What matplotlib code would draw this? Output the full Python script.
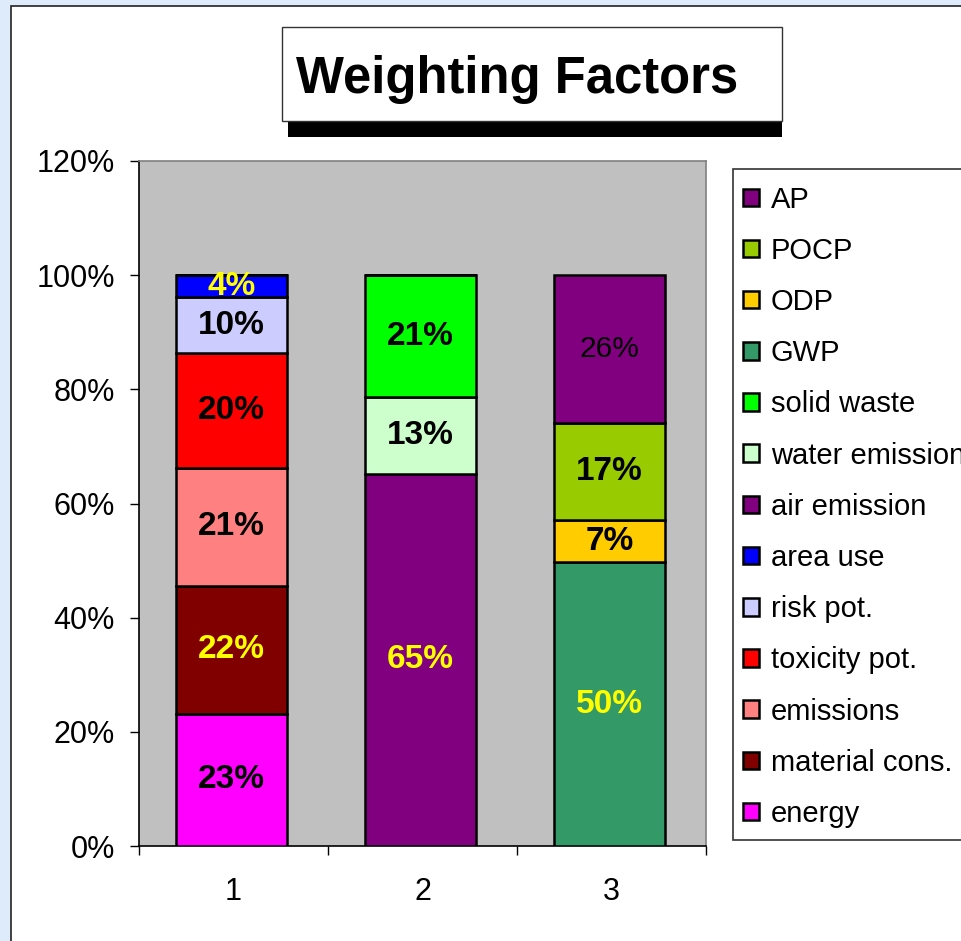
import matplotlib
matplotlib.use("Agg")
import matplotlib.pyplot as plt
from matplotlib.patches import Rectangle
import numpy as np

plt.rcParams['font.family'] = ['Liberation Sans', 'DejaVu Sans']

# ---- data ----
categories = ["1", "2", "3"]
series_names = ["energy", "material cons.", "emissions", "toxicity pot.", "risk pot.",
                "area use", "air emission", "water emission", "solid waste",
                "GWP", "ODP", "POCP", "AP"]
series_colors = ["#FF00FF", "#800000", "#FF8080", "#FF0000", "#CCCCFF",
                 "#0000FF", "#800080", "#CCFFCC", "#00FF00",
                 "#339966", "#FFCC00", "#99CC00", "#800080"]
# values per series for categories 1, 2, 3
series_values = [
    [0.232, 0.0, 0.0],   # energy
    [0.224, 0.0, 0.0],   # material cons.
    [0.206, 0.0, 0.0],   # emissions
    [0.201, 0.0, 0.0],   # toxicity pot.
    [0.098, 0.0, 0.0],   # risk pot.
    [0.039, 0.0, 0.0],   # area use
    [0.0, 0.652, 0.0],   # air emission
    [0.0, 0.134, 0.0],   # water emission
    [0.0, 0.214, 0.0],   # solid waste
    [0.0, 0.0, 0.497],   # GWP
    [0.0, 0.0, 0.074],   # ODP
    [0.0, 0.0, 0.170],   # POCP
    [0.0, 0.0, 0.259],   # AP
]
label_colors = ["black", "yellow", "black", "black", "black", "yellow",
                "yellow", "black", "black", "yellow", "black", "black", "black"]
label_bold = [True] * 12 + [False]
y_ticks = [0, 0.2, 0.4, 0.6, 0.8, 1.0, 1.2]
title = "Weighting Factors"

# ---- figure ----
W, H = 961, 941
fig = plt.figure(figsize=(W / 100, H / 100), dpi=100)
fig.patch.set_facecolor("#DDEBFB")

def fx(px):
    return px / W

def fy(py):
    return 1 - py / H

# white panel
fig.add_artist(Rectangle((fx(11), fy(H + 20)), fx(W + 20), (H + 20 - 6) / H + 0.0,
                         transform=fig.transFigure, facecolor="white",
                         edgecolor="#222222", lw=1.2, zorder=0))

ax = fig.add_axes([fx(139), fy(846), fx(706) - fx(139), fy(161) - fy(846)])
ax.set_facecolor("#C0C0C0")

x = np.arange(len(categories)) + 1
bottom = np.zeros(len(categories))
handles = []
for name, vals, col, lc, bold in zip(series_names, series_values, series_colors,
                                     label_colors, label_bold):
    vals = np.array(vals)
    bars = ax.bar(x - 0.01, vals, 0.59, bottom=bottom, color=col, edgecolor="black",
                  linewidth=1.8, label=name, zorder=3)
    handles.append(bars)
    for xi, v, b in zip(x, vals, bottom):
        if v > 0:
            ax.text(xi - 0.01, b + v / 2, f"{v:.0%}", ha="center", va="center",
                    color=lc, fontsize=24 if bold else 21.5,
                    fontweight="bold" if bold else "normal", zorder=4)
    bottom = bottom + vals

ax.set_xlim(0.5, 3.5)
ax.set_ylim(0, 1.2)
ax.set_yticks(y_ticks)
ax.set_yticklabels([f"{t:.0%}" for t in y_ticks], fontsize=22)
ax.set_xticks([0.5, 1.5, 2.5, 3.5])
ax.set_xticklabels([])
ax.set_xticks(x, minor=True)
ax.set_xticklabels(categories, minor=True, fontsize=22)
ax.tick_params(axis="x", which="major", length=6.5, width=1, direction="out", color="black")
ax.tick_params(axis="x", which="minor", length=0, pad=22)
ax.tick_params(axis="y", length=6.5, width=1, direction="out", pad=11)
for s in ["top", "right"]:
    ax.spines[s].set_color("#808080")
    ax.spines[s].set_linewidth(1.2)
for s in ["left", "bottom"]:
    ax.spines[s].set_color("black")
    ax.spines[s].set_linewidth(1.2)

# legend frame (drawn separately so that it matches the reference box)
fig.add_artist(Rectangle((fx(733), fy(840)), fx(990) - fx(733), fy(169) - fy(840),
                         transform=fig.transFigure, facecolor="white",
                         edgecolor="#333333", lw=1.2, zorder=1))
leg = fig.legend(handles[::-1], series_names[::-1], loc="upper left",
                 bbox_to_anchor=(fx(733), fy(176)), bbox_transform=fig.transFigure,
                 fontsize=21, frameon=False,
                 borderaxespad=0, borderpad=0.33, handlelength=0.55, handleheight=0.55,
                 handletextpad=0.42, labelspacing=0.795)
leg.set_zorder(2)

# title box with shadow
fig.add_artist(Rectangle((fx(288), fy(137)), fx(782) - fx(288), fy(27 + 6) - fy(137),
                         transform=fig.transFigure, facecolor="black", edgecolor="none", zorder=5))
fig.add_artist(Rectangle((fx(282), fy(121)), fx(782) - fx(282), fy(27) - fy(121),
                         transform=fig.transFigure, facecolor="white", edgecolor="#333333",
                         lw=1.0, zorder=6))
fig.text(fx(296), fy(93), title, ha="left", va="baseline", fontsize=36.5,
         fontweight="bold", zorder=7)

fig.savefig("out.png", dpi=100, facecolor=fig.get_facecolor())
